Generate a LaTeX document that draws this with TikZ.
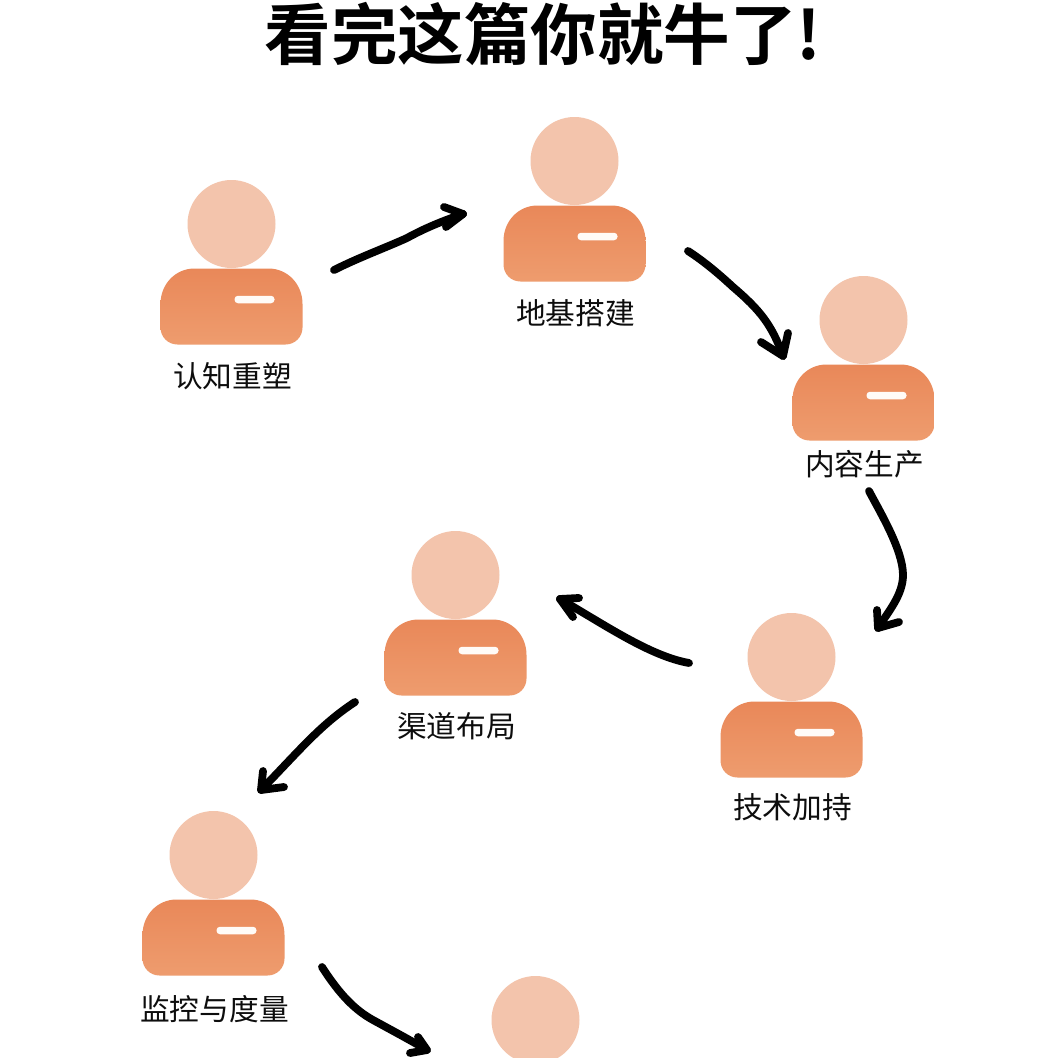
\documentclass[tikz,border=0pt]{standalone}
\usepackage{fontspec}
\newfontfamily\cjk{Noto Sans CJK SC}
\newfontfamily\cjkbold{Noto Sans CJK SC Bold}
\usetikzlibrary{calc}
\definecolor{headc}{HTML}{F3C4AC}
\definecolor{bodytop}{HTML}{E98859}
\definecolor{bodybot}{HTML}{EE9C6E}
\tikzset{
  headdot/.style={circle,fill=headc,draw=none,minimum size=88pt,inner sep=0pt},
  personlabel/.style={font=\cjk\fontsize{29.7}{31}\selectfont,text=black!95,inner sep=0pt},
  titletext/.style={font=\cjkbold\fontsize{66.5}{70}\selectfont,text=black,inner sep=0pt},
  badge/.style={rectangle,rounded corners=3.5pt,fill=white!97!orange,draw=none,minimum width=40pt,minimum height=7.5pt,inner sep=0pt},
  stroke/.style={draw=black,line width=7.8pt,line cap=round,line join=round},
}
\newcommand{\personfig}[5]{% id, head x, head y, label dy, label
  \node[headdot] (#1h) at (#2,#3) {};
  \shade[top color=bodytop,bottom color=bodybot]
    (#2-71,#3+80) .. controls (#2-71,#3+60) and (#2-56,#3+44.5) .. (#2-37,#3+44.5)
    -- (#2+37,#3+44.5) .. controls (#2+56,#3+44.5) and (#2+71,#3+60) .. (#2+71,#3+80)
    -- (#2+71,#3+103.5) .. controls (#2+71,#3+113) and (#2+63.5,#3+120.5) .. (#2+54,#3+120.5)
    -- (#2-54,#3+120.5) .. controls (#2-63.5,#3+120.5) and (#2-71,#3+113) .. (#2-71,#3+103.5) -- cycle;
  \node[badge] (#1b) at (#2+23,#3+75.5) {};
  \node[personlabel] (#1t) at (#2+1,#3+#4) {#5};
}
\begin{document}
\begin{tikzpicture}[x=1pt,y=-1pt]
\useasboundingbox (0,0) rectangle (1058,1058);
\clip (0,0) rectangle (1058,1058);
\fill[white] (0,0) rectangle (1058,1058);
\node[titletext] (title) at (543,34) {看完这篇你就牛了!};
\personfig{a}{231.5}{224}{152}{认知重塑}
\personfig{b}{574.5}{161}{152}{地基搭建}
\personfig{c}{863.5}{320}{144}{内容生产}
\personfig{d}{791.5}{657}{150}{技术加持}
\personfig{e}{455.5}{575}{151}{渠道布局}
\personfig{f}{213.5}{855}{154}{监控与度量}
\node[headdot] (gh) at (535.5,1020) {};
% arrows: free ends and tips
\coordinate (a1s) at (334,270); \coordinate (a1t) at (463,214);
\coordinate (a2s) at (688,251); \coordinate (a2t) at (783,356);
\coordinate (a3s) at (869,491); \coordinate (a3t) at (878,628);
\coordinate (a4s) at (689,663); \coordinate (a4t) at (560,599);
\coordinate (a5s) at (355,702); \coordinate (a5t) at (261,790);
\coordinate (a6s) at (322,967); \coordinate (a6t) at (427,1050);
\draw[stroke] (a1s) .. controls (360,257) and (385,248) .. (407,238) .. controls (425,228) and (445,220) .. (a1t);
\draw[stroke] (444,207) -- (a1t) -- (446,227);
\draw[stroke] (a2s) .. controls (705,262) and (720,275) .. (733,287) .. controls (760,310) and (772,325) .. (a2t);
\draw[stroke] (761,342) -- (a2t) -- (788,333);
\draw[stroke] (a3s) .. controls (880,512) and (903,550) .. (903,575) .. controls (903,595) and (888,612) .. (a3t);
\draw[stroke] (877,610) -- (a3t) -- (899,622);
\draw[stroke] (a4s) .. controls (650,656) and (605,625) .. (a4t);
\draw[stroke] (579,598) -- (a4t) -- (573,617);
\draw[stroke] (a5s) .. controls (320,725) and (300,750) .. (a5t);
\draw[stroke] (263,771) -- (a5t) -- (284,787);
\draw[stroke] (a6s) .. controls (340,995) and (355,1010) .. (373,1020) .. controls (395,1032) and (410,1040) .. (a6t);
\draw[stroke] (418,1037) -- (a6t) -- (410,1053);
\end{tikzpicture}
\end{document}
